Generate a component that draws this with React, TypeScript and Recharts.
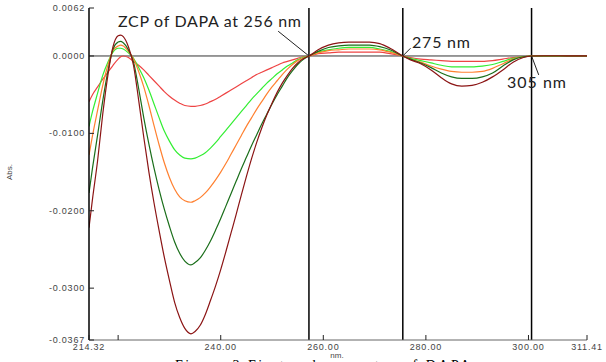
import {
  LineChart,
  Line,
  XAxis,
  YAxis,
  ReferenceLine,
} from "recharts";

// wavelength grid (nm)
const wavelengths = [
  214.32, 215, 216, 217, 218, 219, 220, 220.5, 221, 222,
  223, 224, 225, 226, 227, 228, 229, 230, 231, 232,
  233, 234.2, 235, 236, 237, 238, 239, 240, 241, 242,
  243, 244, 245, 246, 247, 248, 249, 250, 251, 252,
  253, 254, 255, 256, 257.2, 259, 261, 263, 265, 267,
  269, 271, 273, 275.5, 277, 279, 281, 283, 285, 287,
  289, 291, 293, 295, 297, 299, 300.6, 303, 306, 309, 311.41,
];

const redAbs = [
  -0.0059, -0.005, -0.004, -0.003, -0.0021, -0.0012, -0.0004, -0.0001, 0.0, -0.0002,
  -0.0007, -0.0012, -0.0018, -0.0025, -0.0032, -0.0039, -0.0046, -0.0052, -0.0057, -0.0061,
  -0.0064, -0.0065, -0.0065, -0.0064, -0.0062, -0.0059, -0.0056, -0.0052, -0.0048, -0.0044,
  -0.004, -0.0036, -0.0032, -0.0028, -0.0024, -0.0021, -0.0018, -0.0015, -0.0012, -0.0009,
  -0.0007, -0.0005, -0.0003, -0.0001, 0, 0.0003, 0.0004, 0.0005, 0.0005, 0.0005,
  0.0005, 0.0005, 0.0003, 0, -0.0002, -0.0004, -0.0005, -0.0006, -0.0007, -0.0007,
  -0.0007, -0.0007, -0.0006, -0.0004, -0.0002, -0.0001, 0, 0, 0, 0, 0,
];

const limeAbs = [
  -0.0091, -0.0072, -0.0048, -0.0025, -0.0008, 0.0005, 0.001, 0.001, 0.0009, 0.0004,
  -0.0003, -0.0015, -0.0028, -0.0044, -0.0062, -0.008, -0.0097, -0.011, -0.0121, -0.0128,
  -0.0132, -0.0133, -0.0132, -0.0129, -0.0125, -0.0119, -0.0112, -0.0104, -0.0096, -0.0088,
  -0.008, -0.0072, -0.0064, -0.0056, -0.0049, -0.0042, -0.0035, -0.0029, -0.0023, -0.0018,
  -0.0013, -0.0009, -0.0005, -0.0002, 0, 0.0005, 0.0008, 0.001, 0.0011, 0.0011,
  0.0011, 0.0009, 0.0006, 0, -0.0003, -0.0006, -0.0009, -0.0012, -0.0014, -0.0014,
  -0.0014, -0.0013, -0.0011, -0.0007, -0.0003, -0.0001, 0, 0, 0, 0, 0,
];

const orangeAbs = [
  -0.0128, -0.0103, -0.007, -0.0038, -0.0012, 0.0007, 0.0013, 0.0014, 0.0013, 0.0006,
  -0.0004, -0.002, -0.004, -0.0064, -0.009, -0.0115, -0.0138, -0.0157, -0.0172, -0.0182,
  -0.0187, -0.0189, -0.0187, -0.0183, -0.0177, -0.0169, -0.016, -0.015, -0.0139, -0.0127,
  -0.0115, -0.0103, -0.0091, -0.008, -0.0069, -0.0059, -0.0049, -0.004, -0.0032, -0.0024,
  -0.0017, -0.0011, -0.0006, -0.0003, 0, 0.0004, 0.0007, 0.0008, 0.0009, 0.0009,
  0.0009, 0.0008, 0.0005, 0, -0.0004, -0.0008, -0.0013, -0.0017, -0.002, -0.0021,
  -0.0021, -0.002, -0.0016, -0.001, -0.0004, -0.0001, 0, 0, 0, 0, 0,
];

const darkGreenAbs = [
  -0.0177, -0.0145, -0.0102, -0.0058, -0.002, 0.0009, 0.0018, 0.0019, 0.0017, 0.0008,
  -0.0008, -0.0042, -0.008, -0.0114, -0.0145, -0.0173, -0.0198, -0.022, -0.024, -0.0255,
  -0.0265, -0.027, -0.0267, -0.0261, -0.0251, -0.0239, -0.0225, -0.021, -0.0194, -0.0178,
  -0.0162, -0.0146, -0.0131, -0.0116, -0.0102, -0.0088, -0.0075, -0.0062, -0.005, -0.0039,
  -0.0028, -0.0019, -0.0011, -0.0005, 0, 0.0006, 0.0011, 0.0013, 0.0014, 0.0014,
  0.0014, 0.0012, 0.0008, 0, -0.0004, -0.0009, -0.0015, -0.0022, -0.0027, -0.0029,
  -0.0029, -0.0027, -0.0022, -0.0013, -0.0005, -0.0001, 0, 0, 0, 0, 0,
];

const maroonAbs = [
  -0.0222, -0.0185, -0.0135, -0.0075, -0.0025, 0.0012, 0.0026, 0.0027, 0.0025, 0.0012,
  -0.0012, -0.0057, -0.0105, -0.015, -0.019, -0.0226, -0.026, -0.029, -0.0318, -0.0338,
  -0.0352, -0.0359, -0.0356, -0.0348, -0.0334, -0.0316, -0.0297, -0.0276, -0.0253, -0.0229,
  -0.0205, -0.018, -0.0156, -0.0133, -0.0112, -0.0093, -0.0076, -0.0061, -0.0047, -0.0035,
  -0.0025, -0.0016, -0.0009, -0.0004, 0, 0.0008, 0.0014, 0.0017, 0.0018, 0.0018,
  0.0018, 0.0016, 0.001, 0, -0.0005, -0.001, -0.0018, -0.0028, -0.0036, -0.0039,
  -0.0038, -0.0034, -0.0027, -0.0018, -0.0008, -0.0002, 0, 0.00003, 0.00003, 0.00002, 0.00002,
];

const xTicks = [214.32, 220, 240, 260, 280, 300, 311.41];
const topTicks = [220, 240, 260, 280, 300];
const yTicks = [0.0062, 0, -0.01, -0.02, -0.03, -0.0367];
const zcpLines = [257.2, 275.5, 300.6];

const series = [
  { key: "red", values: redAbs, color: "#ee4444" },
  { key: "lime", values: limeAbs, color: "#33ee33" },
  { key: "orange", values: orangeAbs, color: "#ff8030" },
  { key: "darkGreen", values: darkGreenAbs, color: "#1a6e1a" },
  { key: "maroon", values: maroonAbs, color: "#8b1414" },
];

const data = wavelengths.map((wl, i) => {
  const row: Record<string, number> = { wl };
  series.forEach((s) => {
    row[s.key] = s.values[i];
  });
  return row;
});

const tickFont = {
  fontFamily: "Liberation Sans, Arial, sans-serif",
  fontSize: 9,
  fill: "#444",
  letterSpacing: 0.8,
};

const BottomTick = (props: any) => {
  const { x, y, payload } = props;
  const v = payload.value;
  const label = v === 220 ? "" : v.toFixed(2);
  return (
    <g>
      <line x1={x} y1={y} x2={x} y2={y - 5} stroke="#222" />
      <text x={x} y={y + 10} textAnchor="middle" {...tickFont}>
        {label}
      </text>
    </g>
  );
};

const TopTick = (props: any) => {
  const { x, y } = props;
  return <line x1={x} y1={y} x2={x} y2={y + 4} stroke="#222" />;
};

const LeftTick = (props: any) => {
  const { x, y, payload } = props;
  return (
    <g>
      <line x1={x + 4} y1={y} x2={x + 9} y2={y} stroke="#222" />
      <text x={x} y={y + 3} textAnchor="end" {...tickFont}>
        {payload.value.toFixed(4)}
      </text>
    </g>
  );
};

const noteFont = {
  fontFamily: "Lato, 'Open Sans', sans-serif",
  fontSize: 16,
  fill: "#222",
};

export default function App() {
  return (
    <div style={{ position: "absolute", left: 0, top: 0, width: 606, height: 362, background: "#fff", overflow: "hidden" }}>
      <LineChart
        width={606}
        height={362}
        data={data}
        margin={{ top: 8, right: 19, bottom: 0, left: 19 }}
      >
        <XAxis
          dataKey="wl"
          type="number"
          domain={[214.32, 311.41]}
          ticks={xTicks}
          height={22}
          tickSize={0}
          tickMargin={0}
          tickLine={false}
          axisLine={{ stroke: "#666" }}
          tick={<BottomTick />}
          interval={0}
          allowDataOverflow
        />
        <XAxis
          xAxisId="top"
          orientation="top"
          dataKey="wl"
          type="number"
          domain={[214.32, 311.41]}
          ticks={topTicks}
          height={0}
          tickSize={0}
          tickLine={false}
          axisLine={{ stroke: "#666" }}
          tick={<TopTick />}
          interval={0}
        />
        <YAxis
          type="number"
          domain={[-0.0367, 0.0062]}
          ticks={yTicks}
          width={70}
          tickSize={0}
          tickMargin={4}
          tickLine={false}
          axisLine={{ stroke: "#000", strokeWidth: 1.5 }}
          tick={<LeftTick />}
          interval={0}
          allowDataOverflow
        />
        <YAxis
          yAxisId="right"
          orientation="right"
          type="number"
          domain={[-0.0367, 0.0062]}
          width={0}
          tick={false}
          tickLine={false}
          axisLine={{ stroke: "#666" }}
        />
        <ReferenceLine y={0} stroke="#333" strokeWidth={1} />
        {zcpLines.map((x) => (
          <ReferenceLine key={x} x={x} stroke="#000" strokeWidth={1.5} />
        ))}
        {series.map((s) => (
          <Line
            key={s.key}
            dataKey={s.key}
            type="monotone"
            stroke={s.color}
            strokeWidth={1.2}
            dot={false}
            isAnimationActive={false}
          />
        ))}
        <ReferenceLine
          segment={[
            { x: 251.2, y: 0.0032 },
            { x: 257.2, y: 0 },
          ]}
          stroke="#222"
        />
        <ReferenceLine
          segment={[
            { x: 275.5, y: 0 },
            { x: 277.0, y: 0.001 },
          ]}
          stroke="#222"
        />
        <ReferenceLine
          segment={[
            { x: 300.6, y: 0 },
            { x: 302.0, y: -0.00245 },
          ]}
          stroke="#222"
        />
      </LineChart>
      <svg
        width={606}
        height={362}
        style={{ position: "absolute", left: 0, top: 0, pointerEvents: "none" }}
      >
        <text x={118} y={27} textLength={183} {...noteFont}>
          ZCP of DAPA at 256 nm
        </text>
        <text x={412} y={48} textLength={58} {...noteFont}>
          275 nm
        </text>
        <text x={507} y={88} textLength={59} {...noteFont}>
          305 nm
        </text>
        <text
          x={12}
          y={172}
          transform="rotate(-90 12 172)"
          textAnchor="middle"
          {...tickFont}
          fontSize={8}
          letterSpacing={0}
        >
          Abs.
        </text>
        <text x={337} y={358} textAnchor="middle" {...tickFont} fontSize={8} letterSpacing={0}>
          nm.
        </text>
        <text
          x={175}
          y={370}
          textLength={295}
          fontFamily="Liberation Serif, serif"
          fontSize={14}
          fill="#000"
        >
          Figure 3 First order spectra of DAPA
        </text>
      </svg>
    </div>
  );
}
